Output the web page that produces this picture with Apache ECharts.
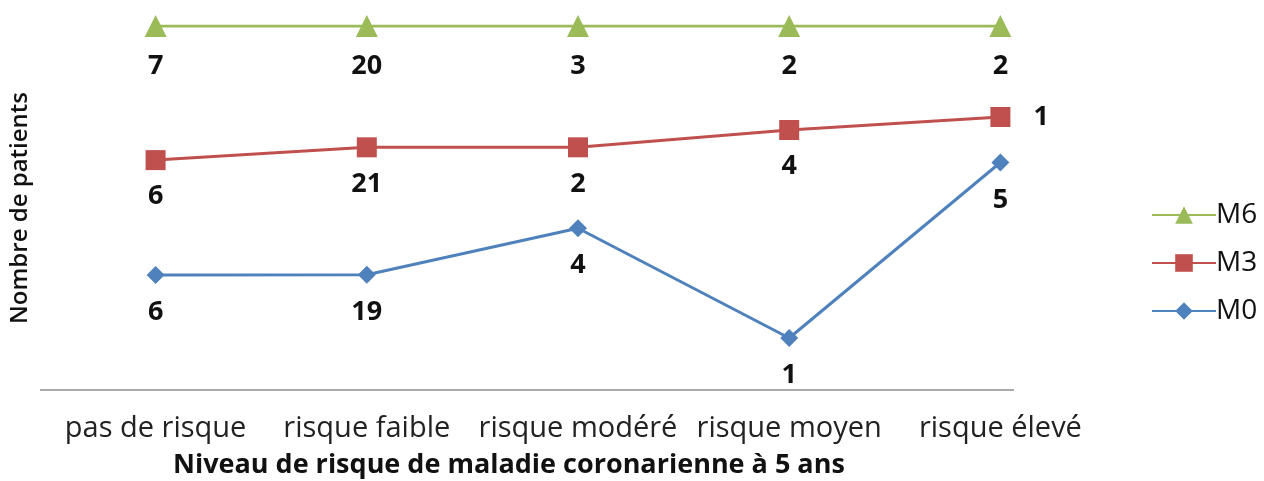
<!DOCTYPE html>
<html>
<head>
<meta charset="utf-8">
<script src="https://cdn.jsdelivr.net/npm/echarts@6/dist/echarts.min.js"></script>
<style>
  html, body { margin: 0; padding: 0; background: #fff; }
  #chart { width: 1264px; height: 481px; }
</style>
</head>
<body>
<div id="chart"></div>
<script>
// catégories et effectifs par visite
const categories = ['pas de risque', 'risque faible', 'risque modéré', 'risque moyen', 'risque élevé'];
const m0 = [6, 19, 4, 1, 5];
const m3 = [6, 21, 2, 4, 1];
const m6 = [7, 20, 3, 2, 2];

document.addEventListener('DOMContentLoaded', function() {
    const font = 'Open Sans';
    // courbes empilées en 100 % (comme dans Excel)
    const totals = categories.map((c, i) => m0[i] + m3[i] + m6[i]);
    const share = arr => arr.map((v, i) => v / totals[i]);

    function labelFor(raw, dist) {
        return {
            show: true,
            position: 'bottom',
            distance: dist,
            color: '#111',
            fontFamily: font,
            fontWeight: 'bold',
            fontSize: 27,
            formatter: p => String(raw[p.dataIndex])
        };
    }

    const chartDom = document.getElementById('chart');
    const myChart = echarts.init(chartDom);
    const option = {
        backgroundColor: '#fff',
        animation: false,
        title: {
            text: 'Niveau de risque de maladie coronarienne à 5 ans',
            left: 168,
            top: 447,
            textStyle: { fontFamily: font, fontWeight: 'bold', fontSize: 27, color: '#111' }
        },
        legend: {
            orient: 'vertical',
            left: 1146,
            top: 196,
            itemWidth: 64,
            itemHeight: 22,
            itemGap: 20,
            data: ['M6', 'M3', 'M0'],
            textStyle: { fontFamily: font, fontSize: 28, color: '#111', padding: [0, 0, 0, -5] }
        },
        grid: { left: 49, right: 158, top: 26, bottom: 91 },
        xAxis: {
            type: 'category',
            data: categories,
            boundaryGap: true,
            axisLine: { show: false },
            axisTick: { show: false },
            axisLabel: { fontFamily: font, fontSize: 29, color: '#222', margin: 24, interval: 0 }
        },
        yAxis: {
            type: 'value',
            min: 0,
            max: 1,
            name: 'Nombre de patients',
            nameLocation: 'middle',
            nameGap: 18,
            nameTextStyle: { fontFamily: font, fontWeight: 600, fontSize: 24, color: '#111' },
            axisLine: { show: false },
            axisTick: { show: false },
            axisLabel: { show: false },
            splitLine: { show: false }
        },
        graphic: [{
            type: 'line',
            shape: { x1: 40, y1: 390, x2: 1014, y2: 390 },
            style: { stroke: '#aaa', lineWidth: 2 }
        }],
        series: [
            {
                name: 'M0', type: 'line', stack: 'pct',
                data: share(m0),
                symbol: 'diamond', symbolSize: 18,
                color: '#4F81BD',
                lineStyle: { width: 3 },
                label: labelFor(m0, 15)
            },
            {
                name: 'M3', type: 'line', stack: 'pct',
                data: share(m3).map((v, i) => i === 4
                    ? { value: v, label: { position: 'right', distance: 23 } }
                    : v),
                symbol: 'rect', symbolSize: 20,
                color: '#C0504D',
                lineStyle: { width: 3 },
                label: labelFor(m3, 13)
            },
            {
                name: 'M6', type: 'line', stack: 'pct',
                data: share(m6),
                symbol: 'triangle', symbolSize: 22,
                color: '#9BBB59',
                lineStyle: { width: 3 },
                label: labelFor(m6, 16)
            }
        ]
    };
    myChart.setOption(option);
});
</script>
</body>
</html>
